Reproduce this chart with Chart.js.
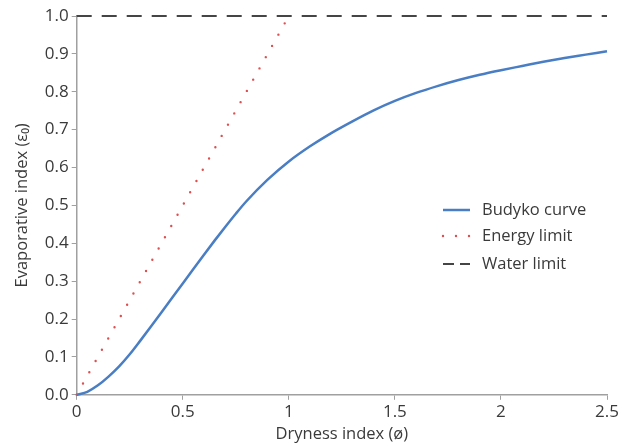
<!DOCTYPE html>
<html>
<head>
<meta charset="utf-8">
<script src="https://cdn.jsdelivr.net/npm/chart.js@4"></script>
<style>
  html, body { margin: 0; padding: 0; background: #fff; }
  #wrap { width: 633px; height: 446px; }
</style>
</head>
<body>
<div id="wrap"><canvas id="chart" width="633" height="446"></canvas></div>
<script>
// dryness index (x) and evaporative index
const budykoX = [0, 0.05, 0.1, 0.15, 0.2, 0.25, 0.3, 0.35, 0.4, 0.45, 0.5, 0.55, 0.6, 0.65, 0.7, 0.75, 0.8, 0.9, 1.0,
                 1.1, 1.2, 1.3, 1.4, 1.5, 1.6, 1.7, 1.8, 1.9, 2.0, 2.1, 2.2, 2.3, 2.4, 2.5]
const budykoY = [0, 0.008, 0.025, 0.048, 0.075, 0.107, 0.143, 0.18, 0.218, 0.256, 0.294, 0.332, 0.37, 0.407, 0.443, 0.478, 0.511, 0.568, 0.616,
                 0.656, 0.691, 0.722, 0.751, 0.776, 0.797, 0.815, 0.831, 0.845, 0.857, 0.868, 0.879, 0.889, 0.898, 0.907]
const energyX = [0, 1]
const energyY = [0, 1]
const waterX = [0, 2.5]
const waterY = [1, 1]

const xTicks = [0, 0.5, 1, 1.5, 2, 2.5]
const yTicks = [0, 0.1, 0.2, 0.3, 0.4, 0.5, 0.6, 0.7, 0.8, 0.9, 1.0]

const labels = ["Budyko curve", "Energy limit", "Water limit"]

const toPoints = (xs, ys) => xs.map((x, i) => ({ x: x, y: ys[i] }))

const FONT = "'Open Sans', sans-serif"
const TEXT = "#3a3a3a"
const AXIS = "#a0a0a0"

// legend drawn inside the plot, right side
const innerLegend = {
    id: "innerLegend",
    afterDraw(chart) {
        const ctx = chart.ctx
        const x0 = 443, x1 = 470, tx = 482
        const rows = [210, 236, 264]
        ctx.save()
        ctx.font = "16.5px " + FONT
        ctx.fillStyle = TEXT
        ctx.textBaseline = "middle"
        chart.data.datasets.forEach((ds, i) => {
            const y = rows[i]
            ctx.beginPath()
            ctx.strokeStyle = ds.borderColor
            ctx.lineWidth = ds.borderWidth
            ctx.lineCap = ds.borderCapStyle || "butt"
            ctx.setLineDash(ds.legendDash || [])
            ctx.moveTo(x0, y)
            ctx.lineTo(x1, y)
            ctx.stroke()
            ctx.setLineDash([])
            ctx.fillText(ds.label, tx, y)
        })
        ctx.restore()
    }
}

new Chart(document.getElementById("chart"), {
    type: "scatter",
    data: {
        datasets: [
            {
                label: labels[0],
                data: toPoints(budykoX, budykoY),
                showLine: true,
                borderColor: "#4a7ec4",
                borderWidth: 2.5,
                pointRadius: 0,
                cubicInterpolationMode: "monotone",
                clip: false
            },
            {
                label: labels[1],
                data: toPoints(energyX, energyY),
                showLine: true,
                borderColor: "#dc5050",
                borderWidth: 2.4,
                borderCapStyle: "round",
                borderDash: [0, 12.9],
                legendDash: [0, 13],
                pointRadius: 0,
                clip: false
            },
            {
                label: labels[2],
                data: toPoints(waterX, waterY),
                showLine: true,
                borderColor: "#454545",
                borderWidth: 1.8,
                borderDash: [15, 10],
                legendDash: [11, 6],
                pointRadius: 0,
                clip: false
            }
        ]
    },
    options: {
        responsive: false,
        animation: false,
        layout: { padding: { left: 12, right: 26, top: 16, bottom: 2 } },
        plugins: {
            legend: { display: false },
            tooltip: { enabled: false }
        },
        scales: {
            x: {
                type: "linear",
                min: 0,
                max: 2.5,
                afterBuildTicks: (axis) => { axis.ticks = xTicks.map(v => ({ value: v })) },
                ticks: {
                    color: TEXT,
                    font: { family: FONT, size: 17 },
                    padding: 2,
                    maxRotation: 0,
                    callback: (v) => String(v)
                },
                grid: { drawOnChartArea: false, drawTicks: true, tickLength: 5, color: AXIS },
                border: { color: AXIS, width: 1.5 },
                title: {
                    display: true,
                    text: "Dryness index (ø)",
                    color: TEXT,
                    font: { family: FONT, size: 16.5 },
                    padding: { top: 0, bottom: 0 }
                }
            },
            y: {
                min: 0,
                max: 1,
                afterBuildTicks: (axis) => { axis.ticks = yTicks.map(v => ({ value: v })) },
                ticks: {
                    color: TEXT,
                    font: { family: FONT, size: 17 },
                    padding: 3,
                    callback: (v) => v.toFixed(1)
                },
                grid: { drawOnChartArea: false, drawTicks: true, tickLength: 5, color: AXIS },
                border: { color: AXIS, width: 1.5 },
                title: {
                    display: true,
                    text: "Evaporative index (ε₀)",
                    color: TEXT,
                    font: { family: FONT, size: 16.5 },
                    padding: { top: 0, bottom: 10 }
                }
            }
        }
    },
    plugins: [innerLegend]
})
</script>
</body>
</html>
